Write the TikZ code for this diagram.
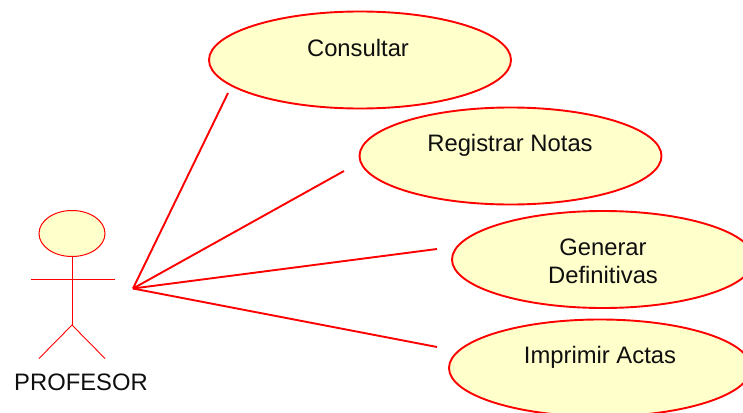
\documentclass[tikz,border=0pt]{standalone}
\usepackage{fontspec}
\setmainfont{Liberation Sans}
\usetikzlibrary{shapes.geometric}
\definecolor{ucfill}{RGB}{255,255,204}
\definecolor{ucred}{RGB}{255,0,0}
\definecolor{ink}{RGB}{15,15,15}
\tikzset{
 usecase/.style={ellipse,draw=ucred,fill=ucfill,line width=1.9pt,inner sep=0pt,minimum width=302pt,minimum height=97pt},
 head/.style={ellipse,draw=ucred,fill=ucfill,line width=1pt,inner sep=0pt,minimum width=66pt,minimum height=46pt},
 limb/.style={draw=ucred,line width=0.9pt},
 assoc/.style={draw=ucred,line width=1.9pt},
 txt/.style={text=ink,font=\fontsize{23.8}{28}\selectfont,align=center,inner sep=0pt}
}
\begin{document}
\begin{tikzpicture}[x=1pt,y=-1pt]
\useasboundingbox (0,0) rectangle (743,412);
\clip (0,0) rectangle (743,412);
\node[usecase] (u1) at (360,60) {};
\node[usecase] (u2) at (510.5,156) {};
\node[usecase] (u3) at (603,259.5) {};
\node[usecase] (u4) at (600,368) {};
\node[txt] (t1) at (358,48) {Consultar};
\node[txt] (t2) at (510,145) {Registrar Notas};
\node[txt] (t3) at (603,261.5) {Generar\\Definitivas};
\node[txt] (t4) at (600,357) {Imprimir Actas};
\node[head] (h) at (72,233.5) {};
\coordinate (hip) at (72,325);
\coordinate (al) at (31,279);
\coordinate (ar) at (115,279);
\coordinate (ll) at (39,358.5);
\coordinate (lr) at (105,358.5);
\draw[limb] (h.south) -- (hip);
\draw[limb] (al) -- (ar);
\draw[limb] (ll) -- (hip) -- (lr);
\node[txt] (actor) at (81,382) {PROFESOR};
\coordinate (hub) at (133,288.5);
\coordinate (e1) at (228,93);
\coordinate (e2) at (344,171);
\coordinate (e3) at (437,249);
\coordinate (e4) at (437,347);
\draw[assoc] (hub) -- (e1);
\draw[assoc] (hub) -- (e2);
\draw[assoc] (hub) -- (e3);
\draw[assoc] (hub) -- (e4);
\end{tikzpicture}
\end{document}
